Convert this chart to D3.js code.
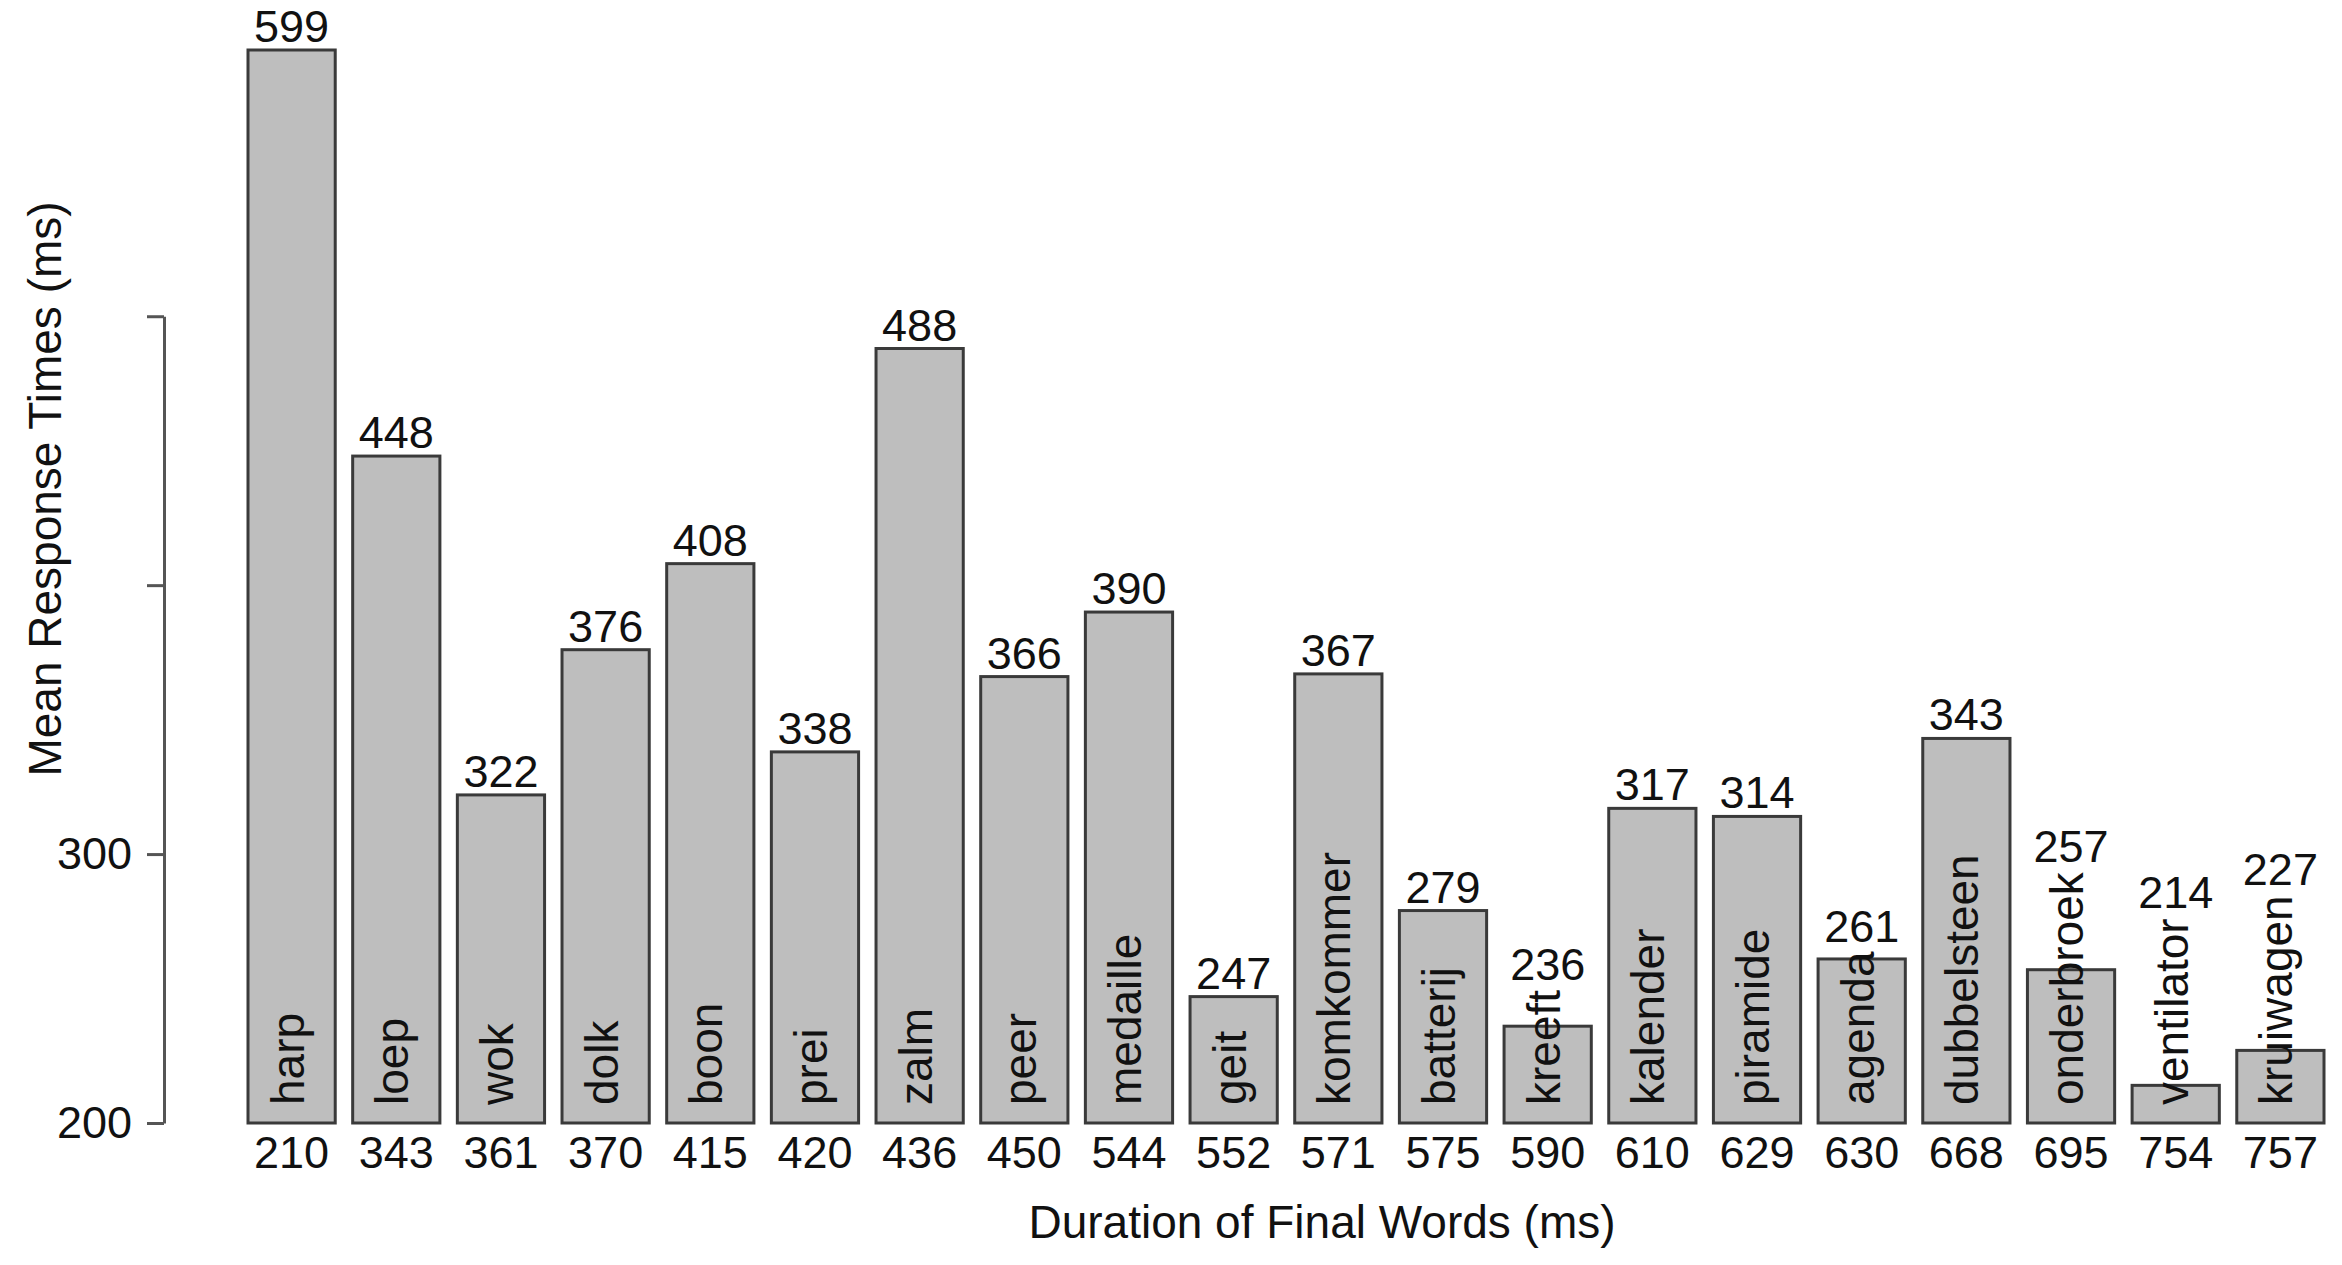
<!DOCTYPE html>
<html>
<head>
<meta charset="utf-8">
<script src="https://cdn.jsdelivr.net/npm/d3@7"></script>
<style>
  html, body { margin: 0; padding: 0; background: #ffffff; }
  svg { display: block; }
  text { font-family: "Liberation Sans", Arial, sans-serif; fill: #111; }
</style>
</head>
<body>
<svg id="chart" width="2342" height="1265"></svg>
<script>
// ---- data ----
const words = ["harp","loep","wok","dolk","boon","prei","zalm","peer","medaille","geit",
               "komkommer","batterij","kreeft","kalender","piramide","agenda","dubbelsteen",
               "onderbroek","ventilator","kruiwagen"];
const durations = [210,343,361,370,415,420,436,450,544,552,571,575,590,610,629,630,668,695,754,757];
const responseTimes = [599,448,322,376,408,338,488,366,390,247,367,279,236,317,314,261,343,257,214,227];
const yTickValues = [200,300,400,500];
const yTickLabels = ["200","300","",""];
const xTitle = "Duration of Final Words (ms)";
const yTitle = "Mean Response Times (ms)";

// ---- layout ----
const svg = d3.select("#chart");
const FS = 45;
const FS_WORD = 46;
const FS_TITLE = 46;
const baseVal = 200;

const x = d3.scaleBand()
  .domain(d3.range(words.length))
  .range([248, 2324])
  .paddingInner(1/6)
  .paddingOuter(0);

const y = d3.scaleLinear()
  .domain([200, 599])
  .range([1123, 50]);

// bars
svg.append("g").selectAll("rect")
  .data(responseTimes)
  .join("rect")
  .attr("x", (d, i) => x(i))
  .attr("y", d => y(d))
  .attr("width", x.bandwidth())
  .attr("height", d => y(baseVal) - y(d))
  .attr("fill", "#bebebe")
  .attr("stroke", "#3a3a3a")
  .attr("stroke-width", 3);

// rotated word labels inside bars
const wordStart = y(baseVal) - 18;
const wordSel = svg.append("g").selectAll("text")
  .data(words)
  .join("text")
  .attr("transform", (d, i) => `translate(${x(i) + x.bandwidth()/2 + 0.26*FS_WORD},${wordStart}) rotate(-90)`)
  .attr("text-anchor", "start")
  .style("font-size", FS_WORD + "px")
  .text(d => d);

const wordLens = [];
wordSel.each(function() { wordLens.push(this.getComputedTextLength()); });

// value labels above bars (or above word when the word sticks out)
svg.append("g").selectAll("text")
  .data(responseTimes)
  .join("text")
  .attr("x", (d, i) => x(i) + x.bandwidth()/2)
  .attr("y", (d, i) => Math.min(y(d) - 8, wordStart - wordLens[i] - 10))
  .attr("text-anchor", "middle")
  .style("font-size", FS + "px")
  .text(d => d);

// duration labels below bars
svg.append("g").selectAll("text")
  .data(durations)
  .join("text")
  .attr("x", (d, i) => x(i) + x.bandwidth()/2)
  .attr("y", y(baseVal) + 45)
  .attr("text-anchor", "middle")
  .style("font-size", FS + "px")
  .text(d => d);

// y axis (line spans 200..500)
const yAxisScale = y.copy().domain([200, 500]).range([y(200), y(500)]);
const yAxis = d3.axisLeft(yAxisScale)
  .tickValues(yTickValues)
  .tickFormat((d, i) => yTickLabels[i])
  .tickSizeInner(17)
  .tickSizeOuter(0)
  .tickPadding(15);
const gy = svg.append("g").attr("transform", "translate(164,0)").call(yAxis);
gy.select(".domain").attr("stroke", "#555").attr("stroke-width", 3);
gy.selectAll(".tick line").attr("stroke", "#555").attr("stroke-width", 3);
gy.selectAll(".tick text")
  .style("font-size", FS + "px")
  .style("font-family", "'Liberation Sans', Arial, sans-serif")
  .attr("fill", "#111");

// axis titles
svg.append("text")
  .attr("x", 1322)
  .attr("y", 1238)
  .attr("text-anchor", "middle")
  .style("font-size", FS_TITLE + "px")
  .text(xTitle);

svg.append("text")
  .attr("transform", "translate(61,489) rotate(-90)")
  .attr("text-anchor", "middle")
  .style("font-size", FS_TITLE + "px")
  .text(yTitle);
</script>
</body>
</html>
